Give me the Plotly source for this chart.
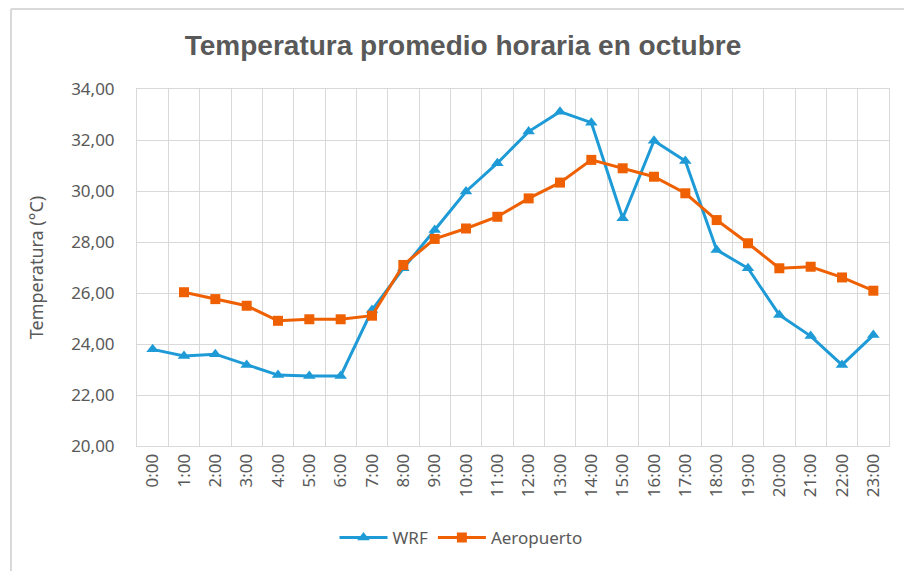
import plotly.graph_objects as go

hours = [f"{h}:00" for h in range(24)]
wrf = [23.79, 23.53, 23.60, 23.18, 22.78, 22.75, 22.75, 25.33, 26.97, 28.47,
       29.98, 31.09, 32.33, 33.11, 32.68, 28.93, 31.97, 31.18, 27.69, 26.97,
       25.14, 24.31, 23.18, 24.35]
aeropuerto = [None, 26.03, 25.76, 25.50, 24.91, 24.97, 24.97, 25.11, 27.10, 28.12,
              28.53, 28.99, 29.71, 30.33, 31.22, 30.89, 30.56, 29.91, 28.86, 27.95,
              26.97, 27.03, 26.61, 26.09]

BLUE = "#1E9BD7"
ORANGE = "#EE6002"
GREY = "#595959"
GRID = "#D9D9D9"
FAM = "Noto Sans, Open Sans, sans-serif"
TICKFONT = dict(family=FAM, size=17, color=GREY)

fig = go.Figure()
fig.add_trace(go.Scatter(
    x=hours, y=wrf, name="WRF", mode="lines+markers",
    line=dict(color=BLUE, width=3),
    marker=dict(symbol="triangle-up", size=11, color=BLUE),
))
fig.add_trace(go.Scatter(
    x=hours, y=aeropuerto, name="Aeropuerto", mode="lines+markers",
    line=dict(color=ORANGE, width=3),
    marker=dict(symbol="square", size=10, color=ORANGE),
))

W, H = 912, 571
L, R, T, B = 129, 31, 81, 133
pw, ph = W - L - R, H - T - B

fig.update_layout(
    width=W, height=H,
    margin=dict(l=L, r=R, t=T, b=B, autoexpand=False),
    paper_bgcolor="white", plot_bgcolor="white",
    separators=",.",
    title=dict(
        text="<b>Temperatura promedio horaria en octubre</b>",
        xref="paper", x=(463 - 137) / pw, xanchor="center",
        y=1 - 37 / H, yanchor="middle",
        font=dict(family="Liberation Sans Narrow, Arial Narrow, sans-serif", size=28, color=GREY),
    ),
    xaxis=dict(
        type="category", range=[-0.5, len(hours) - 0.5],
        tickson="boundaries", showgrid=True, gridcolor=GRID, gridwidth=1,
        showline=True, mirror=True, linecolor=GRID, linewidth=1, automargin=False,
        ticks="", tickangle=-90, tickfont=TICKFONT,
    ),
    yaxis=dict(
        range=[20, 34], dtick=2, tickformat=".2f", showgrid=True, gridcolor=GRID, gridwidth=1,
        showline=True, mirror=True, linecolor=GRID, linewidth=1, zeroline=False, automargin=False,
        ticks="", tickfont=TICKFONT, ticklabelstandoff=18,
        title=dict(text="Temperatura (°C)", font=dict(family=FAM, size=18, color=GREY), standoff=22),
    ),
    legend=dict(
        orientation="h", x=(461 - 137) / pw, xanchor="center",
        yref="container", y=1 - 530 / H, yanchor="middle",
        font=dict(family=FAM, size=17, color=GREY),
        itemwidth=48,
    ),
    showlegend=True,
)

# outer chart border (top and left visible in reference)
bx = (3 - L) / pw
ty = (H - B - 1) / ph
fig.add_shape(type="line", xref="paper", yref="paper",
              x0=bx, x1=(W - L) / pw, y0=ty, y1=ty,
              line=dict(color=GRID, width=2))
fig.add_shape(type="line", xref="paper", yref="paper",
              x0=bx, x1=bx, y0=ty, y1=-B / ph,
              line=dict(color=GRID, width=2))

fig.write_html("out.html")
